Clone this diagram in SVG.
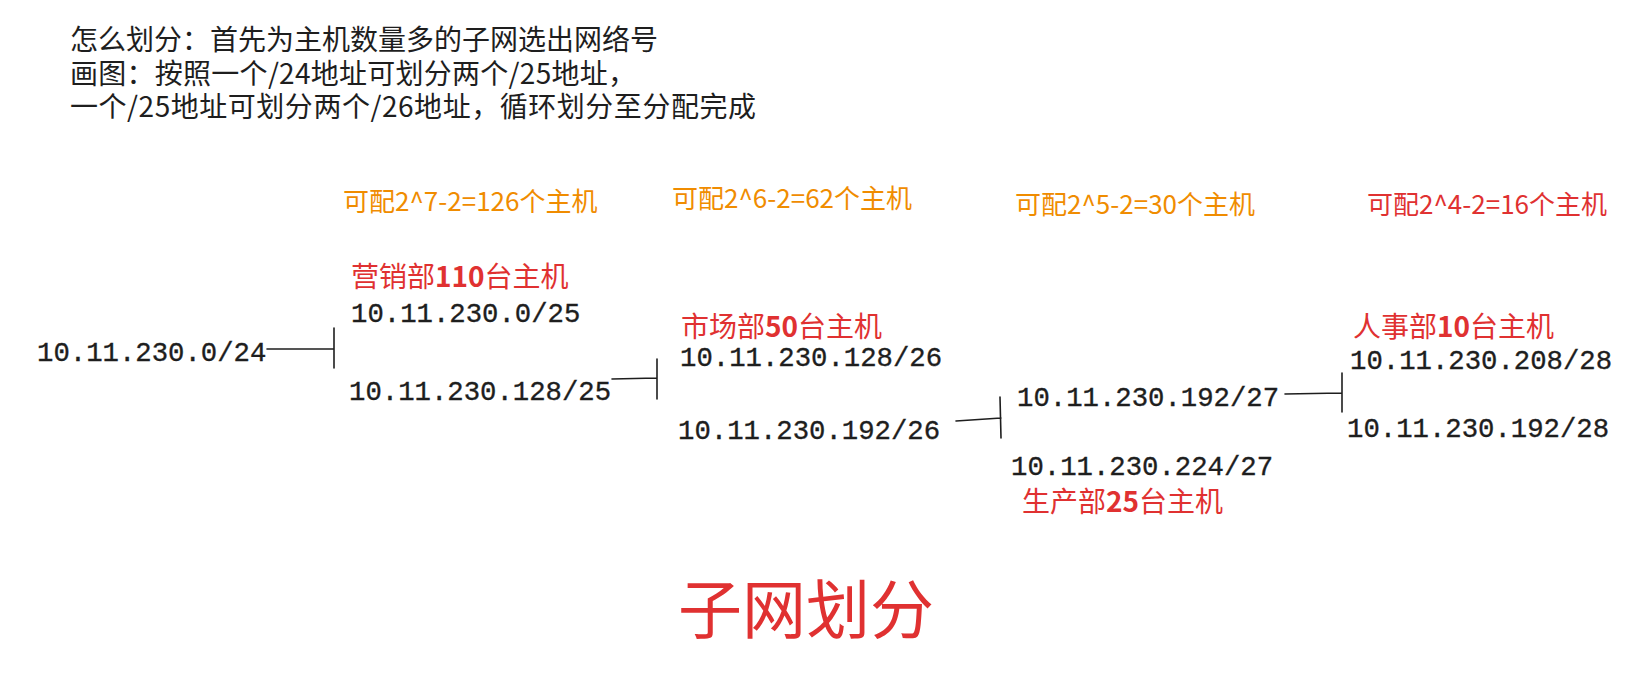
<svg xmlns="http://www.w3.org/2000/svg" width="1648" height="686" viewBox="0 0 1648 686">
<style>
.hdr{font-family:"Noto Sans CJK SC","Noto Sans",sans-serif;font-size:28px;fill:#1e1e1e}
.ip{font-family:"Liberation Mono","DejaVu Sans Mono",monospace;font-size:27.3px;fill:#1e1e1e;stroke:#1e1e1e;stroke-width:0.35}
.cap{font-family:"Noto Sans CJK SC","Noto Sans",sans-serif;font-size:26px}
.org{fill:#f08c00}
.red{fill:#e03131}
.dept{font-family:"Noto Sans CJK SC","Noto Sans",sans-serif;font-size:28px;fill:#e03131}
.num{font-weight:bold}
.title{font-family:"Noto Sans CJK SC","Noto Sans",sans-serif;font-size:64px;fill:#e03131}
.ln{stroke:#1e1e1e;stroke-width:1.6;fill:none;stroke-linecap:round}
</style>
<rect width="1648" height="686" fill="#ffffff"/>
<g id="header">
<text class="hdr" x="70" y="50">怎么划分：首先为主机数量多的子网选出网络号</text>
<text class="hdr" x="70" y="84" textLength="566">画图：按照一个/24地址可划分两个/25地址，</text>
<text class="hdr" x="70" y="117" textLength="686">一个/25地址可划分两个/26地址，循环划分至分配完成</text>
</g>
<g id="cap25"><text class="cap org" x="343" y="211">可配2^7-2=126个主机</text></g>
<g id="cap26"><text class="cap org" x="672" y="208">可配2^6-2=62个主机</text></g>
<g id="cap27"><text class="cap org" x="1015" y="214">可配2^5-2=30个主机</text></g>
<g id="cap28"><text class="cap red" x="1367" y="214">可配2^4-2=16个主机</text></g>
<g id="dept-sales"><text class="dept" x="351" y="287">营销部<tspan class="num">110</tspan>台主机</text></g>
<g id="dept-market"><text class="dept" x="681" y="337">市场部<tspan class="num">50</tspan>台主机</text></g>
<g id="dept-prod"><text class="dept" x="1022" y="512">生产部<tspan class="num">25</tspan>台主机</text></g>
<g id="dept-hr"><text class="dept" x="1353" y="337">人事部<tspan class="num">10</tspan>台主机</text></g>
<g id="n24"><text class="ip" x="37" y="361">10.11.230.0/24</text></g>
<g id="n25a"><text class="ip" x="351" y="322">10.11.230.0/25</text></g>
<g id="n25b"><text class="ip" x="349" y="400">10.11.230.128/25</text></g>
<g id="n26a"><text class="ip" x="680" y="366">10.11.230.128/26</text></g>
<g id="n26b"><text class="ip" x="678" y="439">10.11.230.192/26</text></g>
<g id="n27a"><text class="ip" x="1017" y="406">10.11.230.192/27</text></g>
<g id="n27b"><text class="ip" x="1011" y="475">10.11.230.224/27</text></g>
<g id="n28a"><text class="ip" x="1350" y="369">10.11.230.208/28</text></g>
<g id="n28b"><text class="ip" x="1347" y="437">10.11.230.192/28</text></g>
<g id="connectors">
<path class="ln" d="M267 349 L334 349 M334 328 L334 368"/>
<path class="ln" d="M612 379 L657 378 M657 359 L657 399"/>
<path class="ln" d="M956 421 L1001 418 M1000 397 L1001 438"/>
<path class="ln" d="M1285 394 L1342 393 M1342 373 L1342 412"/>
</g>
<g id="title"><text class="title" x="678" y="633">子网划分</text></g>
</svg>
